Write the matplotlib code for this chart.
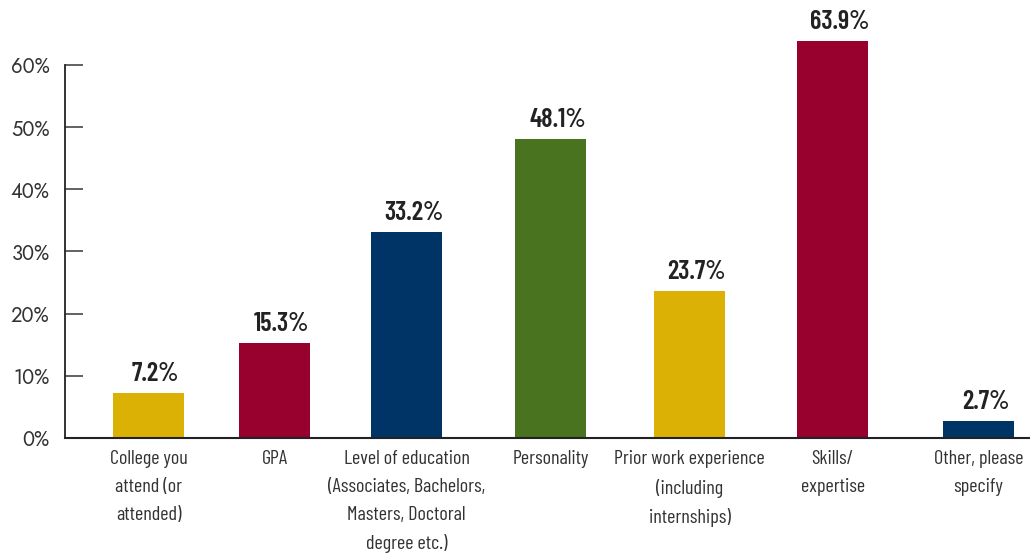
import matplotlib
matplotlib.use("Agg")
import matplotlib.pyplot as plt
from matplotlib import font_manager
from matplotlib.ticker import FuncFormatter

# survey results: what matters most
categories = ["College you\nattend (or\nattended)",
              "GPA",
              "Level of education\n(Associates, Bachelors,\nMasters, Doctoral\ndegree etc.)",
              "Personality",
              "Prior work experience\n(including\ninternships)",
              "Skills/\nexpertise",
              "Other, please\nspecify"]
values = [7.2, 15.3, 33.2, 48.1, 23.7, 63.9, 2.7]
yticks = [0, 10, 20, 30, 40, 50, 60]

# layout and styling
xpos = [0, 0.911, 1.865, 2.906, 3.911, 4.945, 6.0]
colors = ["#dbb106", "#98002e", "#003466", "#4a7320", "#dbb106", "#98002e", "#003466"]
txt = "#333333"


def pick(*fams):
    have = {f.name for f in font_manager.fontManager.ttflist}
    for f in fams:
        if f in have:
            return f
    return "DejaVu Sans"


narrow = pick("Barlow Condensed", "Roboto Condensed", "IBM Plex Sans Condensed",
              "Open Sans Condensed")
geo = pick("Jost", "Questrial", "Century Gothic", "Lato")

fig = plt.figure(figsize=(10.30, 5.56), dpi=100)
ax = fig.add_axes([65/1030, 1 - 438/556, 1 - 65/1030, 438/556])

ax.bar(xpos, values, width=0.513, color=colors, zorder=2)
for x, v in zip(xpos, values):
    ax.annotate(f"{v}%", (x, v), xytext=(5, 5), textcoords="offset points",
                ha="center", va="bottom", fontsize=19, fontweight="semibold",
                family=narrow, color="#222222")

ax.set_xlim(-0.604, 6.372)
ax.set_ylim(0, 70.45)
ax.set_yticks(yticks)
ax.yaxis.set_major_formatter(FuncFormatter(lambda v, p: f"{v:.0f}%"))
ax.set_xticks(xpos)
ax.set_xticklabels(categories, family=narrow, fontsize=14.5, color=txt,
                   linespacing=1.68)
ax.tick_params(axis="x", length=0, pad=9)
ax.tick_params(axis="y", direction="in", length=13, width=1.3, color="#555555",
               labelsize=14.5, labelcolor=txt, pad=11)
for lbl in ax.get_yticklabels():
    lbl.set_family(geo)

for s in ["top", "right"]:
    ax.spines[s].set_visible(False)
ax.spines["left"].set_bounds(0, 60)
ax.spines["left"].set_color("#222222")
ax.spines["left"].set_linewidth(1.3)
ax.spines["bottom"].set_color("#222222")
ax.spines["bottom"].set_linewidth(1.5)

fig.savefig("out.png", dpi=100)
